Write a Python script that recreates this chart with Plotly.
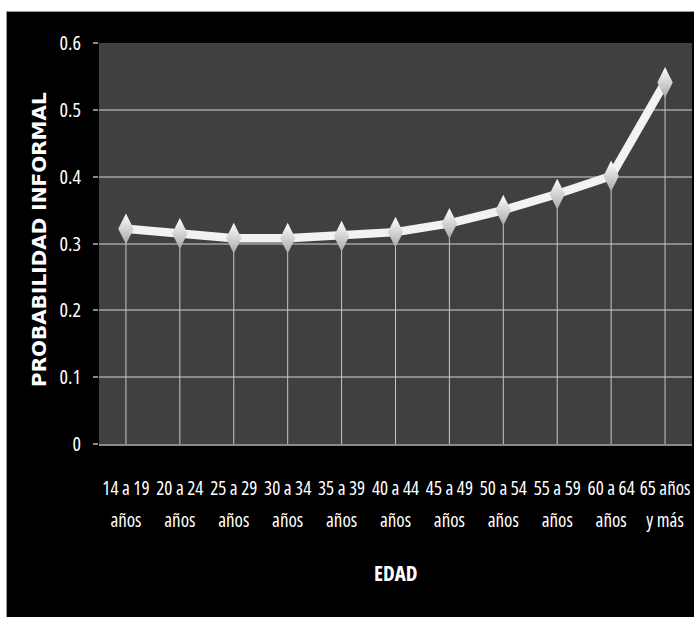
import plotly.graph_objects as go

# Age groups and estimated probability of informal employment
grupos_edad = [
    "14 a 19", "20 a 24", "25 a 29", "30 a 34", "35 a 39", "40 a 44",
    "45 a 49", "50 a 54", "55 a 59", "60 a 64", "65 años",
]
segunda_linea = ["años"] * 10 + ["y más"]
probabilidad = [0.322, 0.315, 0.308, 0.308, 0.311, 0.317,
                0.330, 0.350, 0.374, 0.401, 0.541]
y_ticks = [0, 0.1, 0.2, 0.3, 0.4, 0.5, 0.6]

W, H = 694, 617
M_L, M_R, M_T, M_B = 99, 2, 43, 173
plot_w = W - M_L - M_R
plot_h = H - M_T - M_B


def px_x(px):
    return (px - M_L) / plot_w


def px_y(py):
    return (H - M_B - py) / plot_h


FONT = "Open Sans"
NARROW = "font-stretch:75%"


def narrow(text, size):
    return f'<span style="{NARROW};font-size:{size}px">{text}</span>'


tick_text = [narrow(f"{a}<br>{b}", 19) for a, b in zip(grupos_edad, segunda_linea)]
y_text = [narrow("0" if v == 0 else f"{v:.1f}", 20) for v in y_ticks]

fig = go.Figure()
fig.add_trace(go.Scatter(
    x=grupos_edad,
    y=probabilidad,
    mode="lines+markers",
    line=dict(color="#f2f2f2", width=8.5),
    marker=dict(
        symbol="diamond-tall", size=22, color="#ffffff",
        gradient=dict(type="vertical", color="#a8a8a8"),
        line=dict(width=0),
    ),
    error_y=dict(
        type="data", symmetric=False,
        array=[0] * len(probabilidad), arrayminus=probabilidad,
        thickness=1, width=0, color="#c8c8c8",
    ),
    showlegend=False,
    hoverinfo="skip",
))

fig.update_xaxes(
    type="category",
    categoryorder="array", categoryarray=grupos_edad,
    range=[-0.5, len(grupos_edad) - 0.5],
    tickvals=grupos_edad, ticktext=tick_text,
    tickfont=dict(family=FONT, size=25, color="#ffffff"),
    showgrid=False, zeroline=False,
    showline=True, linecolor="#8a8a8a", linewidth=1.5,
    ticks="", ticklabelstandoff=19,
)
fig.update_yaxes(
    range=[0, 0.6], tickvals=y_ticks, ticktext=y_text,
    tickfont=dict(family=FONT, size=20, color="#ffffff"),
    showgrid=True, gridcolor="#8a8a8a", gridwidth=1.5,
    zeroline=False, showline=False,
    ticks="outside", ticklen=5, tickcolor="#8a8a8a", tickwidth=1.5,
    ticklabelstandoff=8,
)

fig.update_layout(
    width=W, height=H,
    margin=dict(l=M_L, r=M_R, t=M_T, b=M_B),
    paper_bgcolor="#000000",
    plot_bgcolor="#404040",
    shapes=[
        # white frame strips around the black panel
        dict(type="rect", xref="paper", yref="paper",
             x0=px_x(-5), x1=px_x(W + 5), y0=px_y(11), y1=px_y(-5),
             fillcolor="#ffffff", line=dict(width=0), layer="above"),
        dict(type="rect", xref="paper", yref="paper",
             x0=px_x(-5), x1=px_x(6), y0=px_y(H + 5), y1=px_y(-5),
             fillcolor="#ffffff", line=dict(width=0), layer="above"),
        dict(type="line", xref="paper", yref="paper",
             x0=px_x(6), x1=px_x(W), y0=px_y(11.5), y1=px_y(11.5),
             line=dict(color="#9a9a9a", width=1)),
        dict(type="line", xref="paper", yref="paper",
             x0=px_x(6.5), x1=px_x(6.5), y0=px_y(11), y1=px_y(H),
             line=dict(color="#9a9a9a", width=1)),
    ],
    annotations=[
        dict(text="<b>PROBABILIDAD INFORMAL</b>", textangle=-90,
             xref="paper", yref="paper", x=px_x(39), y=px_y(240),
             showarrow=False, xanchor="center", yanchor="middle",
             font=dict(family="DejaVu Sans", size=20, color="#ffffff")),
        dict(text="<b>" + narrow("EDAD", 21) + "</b>",
             xref="paper", yref="paper", x=px_x(396), y=px_y(573),
             showarrow=False, xanchor="center", yanchor="middle",
             font=dict(family=FONT, size=21, color="#ffffff")),
    ],
)

fig.write_html("out.html")
